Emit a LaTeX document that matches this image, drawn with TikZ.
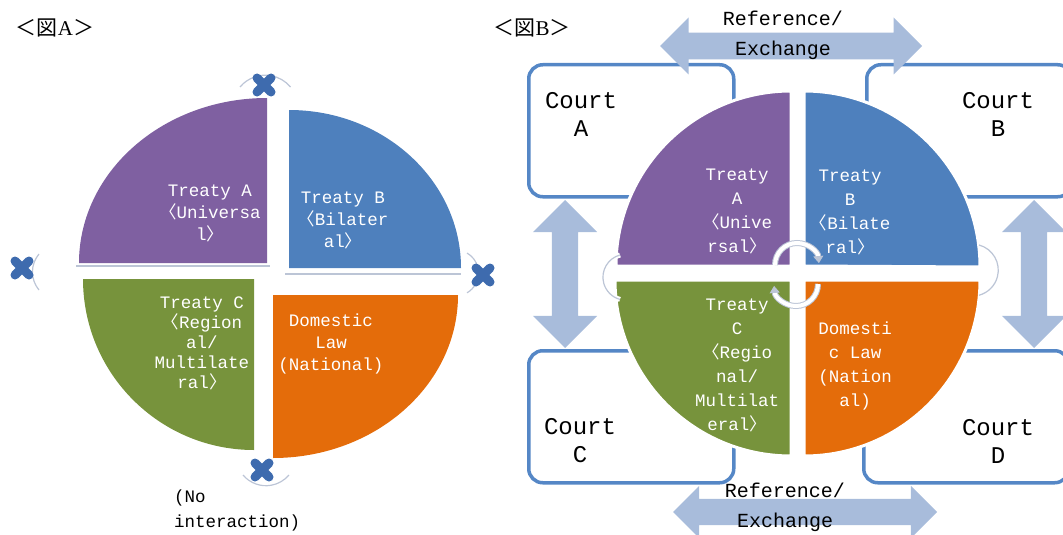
\documentclass[tikz,border=0pt]{standalone}
\usepackage{fontspec}
\setmainfont{Liberation Serif}
\newfontfamily\mono{Liberation Mono}
\newfontfamily\cjk{Noto Sans CJK JP}
\usetikzlibrary{positioning}
\usetikzlibrary{shapes, arrows.meta}

\definecolor{purp}{HTML}{7F60A1}
\definecolor{blueq}{HTML}{4E80BD}
\definecolor{greenq}{HTML}{77933C}
\definecolor{orangeq}{HTML}{E46C0A}
\definecolor{boxblue}{HTML}{5587C6}
\definecolor{arrblue}{HTML}{A8BCDB}
\definecolor{crossblue}{HTML}{3E6BAE}
\definecolor{arcgray}{HTML}{BCC5D6}

\begin{document}
\begin{tikzpicture}[x=1pt,y=-1pt,
		quad/.style={draw=white, line width=3pt},
		qtxt/.style={text=white, align=center, font=\mono\fontsize{17.5}{22}\selectfont, inner sep=0pt},
		courtbox/.style={draw=boxblue, fill=white, line width=3.5pt, rounded corners=14pt, minimum width=205pt, minimum height=132pt, anchor=north west},
		courttxt/.style={align=center, font=\mono\fontsize{24}{28}\selectfont, inner sep=0pt},
		exch/.style={double arrow, fill=arrblue, inner sep=0pt, outer sep=0pt},
		xtxt/.style={align=center, font=\mono\fontsize{20}{30}\selectfont, inner sep=0pt},
		xmark/.style={draw=crossblue, line width=9pt, line cap=round},
		faint/.style={draw=arcgray, line width=1.2pt},
		swirl/.style={double=white, draw=arcgray, line width=1pt, double distance=4pt}
	]
	\useasboundingbox (0,0) rectangle (1063,535);
	\clip (0,0) rectangle (1063,535);

	% titles
	\node (titleA) at (55,28) {\fontsize{21}{21}\selectfont{\cjk ＜図}A{\cjk ＞}};
	\node (titleB) at (532,28) {\fontsize{21}{21}\selectfont{\cjk ＜図}B{\cjk ＞}};

	% figure A
	\draw[faint] (76,266) -- (270,266);
	\draw[faint] (285,274) -- (461,274);
	\fill[purp] (267,263) -- (79,263) arc[start angle=180, end angle=270, x radius=188, y radius=165] -- cycle;
	\fill[blueq] (289,268) -- (289,110) arc[start angle=270, end angle=360, x radius=172, y radius=158] -- cycle;
	\fill[greenq] (254,279) -- (254,450) arc[start angle=90, end angle=180, radius=171] -- cycle;
	\fill[orangeq] (273,295) -- (458,295) arc[start angle=0, end angle=90, x radius=185, y radius=163] -- cycle;

	\draw[faint] (240,87) arc[start angle=220, end angle=320, radius=33];
	\draw[faint] (39,290) arc[start angle=140, end angle=220, radius=28];
	\draw[faint] (467,253) arc[start angle=-60, end angle=60, radius=23];
	\draw[faint] (243,475) arc[start angle=140, end angle=40, radius=30];
	\foreach \p in {(264,85),(22,268),(483,275),(262,470)}
		\draw[xmark] \p +(-7,-7) -- +(7,7) \p +(-7,7) -- +(7,-7);

	\node[qtxt] (trA) at (210,213) {Treaty A\\{\cjk 〈}Universa\\l{\cjk 〉}};
	\node[qtxt] (trB) at (343,220) {Treaty B\\{\cjk 〈}Bilater\\al{\cjk 〉}};
	\node[qtxt, font=\mono\fontsize{17.5}{20}\selectfont] (trC) at (202,343) {Treaty C\\{\cjk 〈}Region\\al/\\Multilate\\ral{\cjk 〉}};
	\node[qtxt] (domA) at (331,344) {Domestic\\Law\\(National)};
	\node[align=left, anchor=west, font=\mono\fontsize{17.5}{25}\selectfont, inner sep=0pt] (noint) at (174,510) {(No\\interaction)};

	% figure B
	\node[courtbox] (boxA) at (527,63) {};
	\node[courtbox] (boxB) at (865,63) {};
	\node[courtbox] (boxC) at (527,349) {};
	\node[courtbox] (boxD) at (862,349) {};

	\node[exch, minimum height=262pt, minimum width=57pt, double arrow head extend=15pt] (topex) at (791,46) {\rule{0pt}{26pt}};
	\node[exch, minimum height=264pt, minimum width=52pt, double arrow head extend=13pt] (botex) at (805,512) {\rule{0pt}{26pt}};
	\node[exch, rotate=90, minimum height=148pt, minimum width=64pt, double arrow head extend=19pt] (leftex) at (565,274) {\rule{0pt}{26pt}};
	\node[exch, rotate=90, minimum height=148pt, minimum width=64pt, double arrow head extend=19pt] (rightex) at (1034,274) {\rule{0pt}{26pt}};

	\draw[quad, fill=purp] (791,266) -- (616,266) arc[start angle=180, end angle=270, radius=175] -- cycle;
	\draw[quad, fill=blueq] (804,266) -- (804,91) arc[start angle=270, end angle=360, radius=176] -- cycle;
	\draw[quad, fill=greenq] (791,280) -- (791,456) arc[start angle=90, end angle=180, radius=176] -- cycle;
	\draw[quad, fill=orangeq] (804,280) -- (980,280) arc[start angle=0, end angle=90, radius=176] -- cycle;

	\draw[white, line width=5pt] (620,255) arc[start angle=255, end angle=105, radius=23];
	\draw[faint] (620,255) arc[start angle=255, end angle=105, radius=23];
	\draw[white, line width=5pt] (979,245) arc[start angle=-75, end angle=75, radius=26];
	\draw[faint] (979,245) arc[start angle=-75, end angle=75, radius=26];
	\draw[swirl, -{Triangle[length=7pt, width=10pt]}] (775,265) arc[start angle=180, end angle=355, radius=22];
	\draw[swirl, -{Triangle[length=7pt, width=10pt]}] (818,284) arc[start angle=0, end angle=175, radius=22];

	\node[courttxt] (ctA) at (581,114) {Court\\A};
	\node[courttxt] (ctB) at (998,114) {Court\\B};
	\node[courttxt] (ctC) at (580,441) {Court\\C};
	\node[courttxt] (ctD) at (998,441) {Court\\D};
	\node[xtxt] (refT) at (783,35) {Reference/\\Exchange};
	\node[xtxt] (refB) at (785,507) {Reference/\\Exchange};

	\node[qtxt, font=\mono\fontsize{17.5}{24}\selectfont] (tbA) at (737,211) {Treaty\\A\\{\cjk 〈}Unive\\rsal{\cjk 〉}};
	\node[qtxt, font=\mono\fontsize{17.5}{24}\selectfont] (tbB) at (850,212) {Treaty\\B\\{\cjk 〈}Bilate\\ral{\cjk 〉}};
	\node[qtxt, font=\mono\fontsize{17.5}{24}\selectfont] (tbC) at (737,365) {Treaty\\C\\{\cjk 〈}Regio\\nal/\\Multilat\\eral{\cjk 〉}};
	\node[qtxt, font=\mono\fontsize{17.5}{24}\selectfont] (domB) at (855,366) {Domesti\\c Law\\(Nation\\al)};
\end{tikzpicture}
\end{document}
